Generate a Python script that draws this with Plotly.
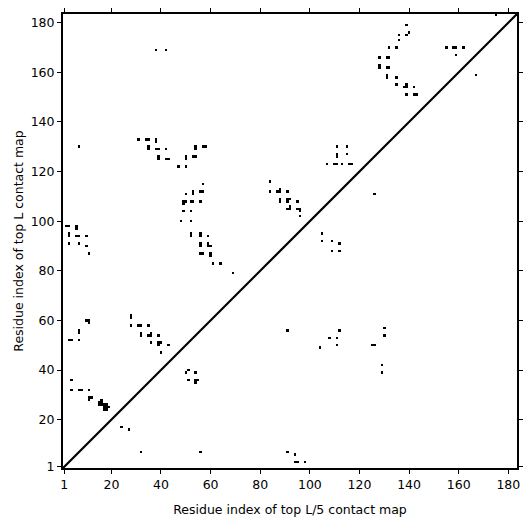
import numpy as np
import plotly.graph_objects as go

N = 183  # number of residues

# Upper triangle (y > x): top L contact map
upper_i = [38,42,31,34,35,38,38,7,35,35,38,39,42,54,54,57,58,39,39,42,43,50,50,53,54,47,50,
           111,115,111,111,115,107,110,111,113,116,117,
           175,139,140,139,136,136,132,135,128,131,132,128,128,131,132,131,131,135,135,138,139,139,142,139,142,143,155,158,159,162,159,
           57,50,53,53,56,57,49,50,49,52,53,56,49,52,48,52,52,52,56,56,59,56,56,59,59,60,56,57,60,60,61,64,
           2,3,6,6,3,3,6,7,10,3,7,10,11,10,11,11,28,28,
           84,84,87,88,88,91,88,88,91,92,91,95,92,92,91,95,96,96,96,69,
           28,31,32,35,32,32,35,36,36,39,36,39,40,39,43,40,3,4,7,7,7,4,4,7,8,11,11,11,12,
           15,16,16,15,16,17,18,17,18,17,18,19,24,27]
upper_j = [169,169,133,133,133,133,132,130,130,129,129,129,129,129,130,130,130,125,126,125,125,125,126,126,126,122,122,
           130,130,127,126,127,123,123,123,123,123,123,
           183,179,176,175,175,173,170,170,166,166,166,162,163,162,162,158,159,158,155,154,154,155,154,151,151,151,170,170,170,170,167,
           115,111,111,112,112,112,108,108,107,108,108,108,104,104,100,100,94,95,94,95,94,90,91,91,90,90,87,87,87,86,83,83,
           98,98,98,97,95,94,94,94,94,91,91,90,87,60,60,59,61,62,
           116,112,112,112,113,112,108,109,109,109,108,108,106,105,105,105,105,104,102,79,
           58,58,58,58,55,54,54,54,55,54,51,51,51,50,50,47,52,52,52,55,56,36,32,32,32,32,28,29,29,
           27,27,28,26,26,26,26,25,25,24,24,25,17,16]

# Lower triangle (x > y): top L/5 contact map
lower_i = [167,126,105,105,109,112,109,112,32,56,51,50,54,51,54,55,54,
           91,112,108,111,111,104,125,126,91,94,94,95,98,130,130,129,129]
lower_j = [159,111,95,92,92,91,88,88,7,7,40,39,39,36,36,36,35,
           56,56,53,53,50,49,50,50,7,6,3,3,3,57,54,42,39]

tick_vals = [1, 20, 40, 60, 80, 100, 120, 140, 160, 180]
tick_text = [str(v) for v in tick_vals]

# contact matrix built from the lists
z = np.full((N, N), np.nan)
for a, b in zip(upper_i + lower_i, upper_j + lower_j):
    z[b - 1, a - 1] = 1.0
res = list(range(1, N + 1))

fig = go.Figure()
fig.add_trace(go.Heatmap(
    x=res, y=res, z=z,
    colorscale=[[0, "black"], [1, "black"]],
    showscale=False, hoverinfo="skip",
))
fig.add_trace(go.Scatter(
    x=[0.5, N + 0.5], y=[0.5, N + 0.5], mode="lines",
    line=dict(color="black", width=2.2), hoverinfo="skip", showlegend=False,
))

font = dict(family="DejaVu Sans", size=12.5, color="black")
axis_common = dict(
    tickvals=tick_vals, ticktext=tick_text,
    range=[0.5, N + 0.5], showgrid=False, zeroline=False,
    showline=True, linecolor="black", linewidth=2, mirror="ticks",
    ticks="outside", ticklen=4, tickwidth=1, tickcolor="black",
    tickfont=font, automargin=False,
)
fig.update_layout(
    width=523, height=523,
    margin=dict(l=55, r=14, t=6, b=63),
    plot_bgcolor="white", paper_bgcolor="white",
    showlegend=False, font=font,
    xaxis=dict(axis_common, title=dict(text="Residue index of top L/5 contact map", font=font, standoff=14)),
    yaxis=dict(axis_common, title=dict(text="Residue index of top L contact map", font=font, standoff=4)),
)
fig.write_html("out.html")
